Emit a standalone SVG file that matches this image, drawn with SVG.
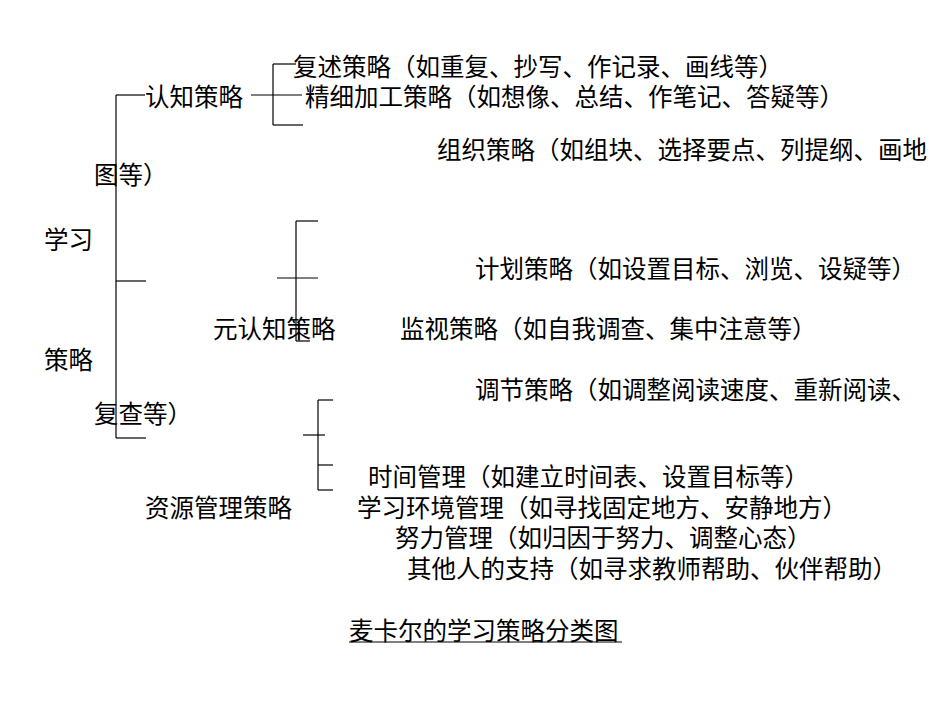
<svg xmlns="http://www.w3.org/2000/svg" width="950" height="713" viewBox="0 0 950 713">
<style>
text{font-family:"Noto Sans CJK SC","Liberation Sans",sans-serif;font-size:24.5px;fill:#000}
line{stroke:#000;stroke-width:1.2}
</style>
<rect width="950" height="713" fill="#fff"/>
<g id="connectors">
<line x1="116" y1="95" x2="116" y2="438"/><line x1="116" y1="95" x2="145" y2="95"/><line x1="116" y1="281" x2="146" y2="281"/><line x1="116" y1="438" x2="146" y2="438"/>
<line x1="273" y1="64" x2="273" y2="125"/><line x1="273" y1="64" x2="296" y2="64"/><line x1="251" y1="95" x2="302" y2="95"/><line x1="273" y1="125" x2="303" y2="125"/>
<line x1="296" y1="221" x2="296" y2="341"/><line x1="296" y1="221" x2="318" y2="221"/><line x1="277" y1="278" x2="318" y2="278"/><line x1="296" y1="341" x2="310" y2="341"/>
<line x1="318" y1="400" x2="318" y2="490"/><line x1="318" y1="400" x2="333" y2="400"/><line x1="303" y1="435" x2="325" y2="435"/><line x1="318" y1="465" x2="333" y2="465"/><line x1="318" y1="490" x2="333" y2="490"/>
</g>
<g id="root"><text x="44" y="249">学习</text><text x="44" y="369">策略</text></g>
<g id="cog"><text x="145" y="106">认知策略</text></g>
<g id="c1"><text x="293" y="76">复述策略（如重复、抄写、作记录、画线等）</text></g>
<g id="c2"><text x="305" y="106">精细加工策略（如想像、总结、作笔记、答疑等）</text></g>
<g id="c3"><text x="437" y="159">组织策略（如组块、选择要点、列提纲、画地</text><text x="94" y="184">图等）</text></g>
<g id="meta"><text x="213" y="338">元认知策略</text></g>
<g id="m1"><text x="475" y="278">计划策略（如设置目标、浏览、设疑等）</text></g>
<g id="m2"><text x="400" y="338">监视策略（如自我调查、集中注意等）</text></g>
<g id="m3"><text x="475" y="399">调节策略（如调整阅读速度、重新阅读、</text><text x="94" y="423">复查等）</text></g>
<g id="res"><text x="145" y="517">资源管理策略</text></g>
<g id="r1"><text x="368" y="486">时间管理（如建立时间表、设置目标等）</text></g>
<g id="r2"><text x="357" y="517">学习环境管理（如寻找固定地方、安静地方）</text></g>
<g id="r3"><text x="395" y="547">努力管理（如归因于努力、调整心态）</text></g>
<g id="r4"><text x="407" y="578">其他人的支持（如寻求教师帮助、伙伴帮助）</text></g>
<g id="title"><text x="349" y="640">麦卡尔的学习策略分类图</text><line x1="349" y1="642" x2="622" y2="642"/></g>
</svg>
